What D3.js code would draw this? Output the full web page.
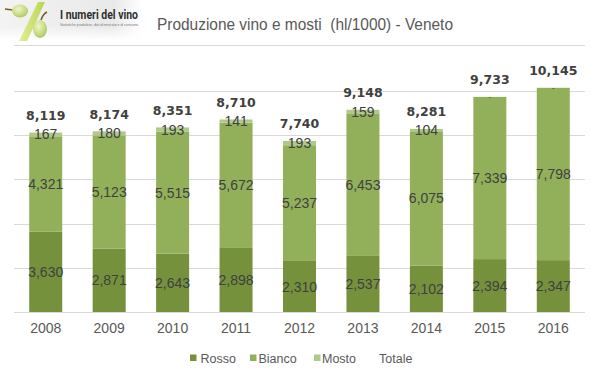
<!DOCTYPE html>
<html>
<head>
<meta charset="utf-8">
<script src="https://cdn.jsdelivr.net/npm/d3@7"></script>
<style>
  html, body { margin: 0; padding: 0; background: #ffffff; }
  svg { display: block; }
</style>
</head>
<body>
<div id="chart"></div>
<script>
const years = ["2008","2009","2010","2011","2012","2013","2014","2015","2016"];
const rosso  = [3630, 2871, 2643, 2898, 2310, 2537, 2102, 2394, 2347];
const bianco = [4321, 5123, 5515, 5672, 5237, 6453, 6075, 7339, 7798];
const mosto  = [167, 180, 193, 141, 193, 159, 104, 0, 0];
const totale = [8119, 8174, 8351, 8710, 7740, 9148, 8281, 9733, 10145];
const yTicks = [0, 2000, 4000, 6000, 8000, 10000];
const seriesNames = ["Rosso", "Bianco", "Mosto"];
const seriesColors = ["#76913c", "#92b05a", "#aec98a"];
const titleText = "Produzione vino e mosti  (hl/1000) - Veneto";

const W = 599, H = 378;
const svg = d3.select("#chart").append("svg").attr("width", W).attr("height", H);

// ---- logo ----
const defs = svg.append("defs");
const lg = defs.append("linearGradient").attr("id", "logobg").attr("x1", "0").attr("x2", "1").attr("y1", "0").attr("y2", "0");
lg.append("stop").attr("offset", "0").attr("stop-color", "#f3f3f3");
lg.append("stop").attr("offset", "0.8").attr("stop-color", "#e9e9e9");
lg.append("stop").attr("offset", "1").attr("stop-color", "#ffffff");
const lg2 = defs.append("linearGradient").attr("id", "logofade").attr("x1", "0").attr("x2", "0").attr("y1", "0").attr("y2", "1");
lg2.append("stop").attr("offset", "0").attr("stop-color", "#ffffff").attr("stop-opacity", 0);
lg2.append("stop").attr("offset", "1").attr("stop-color", "#ffffff").attr("stop-opacity", 1);
const gr = defs.append("radialGradient").attr("id", "grape").attr("cx", "0.4").attr("cy", "0.35").attr("r", "0.7");
gr.append("stop").attr("offset", "0").attr("stop-color", "#eef5c8");
gr.append("stop").attr("offset", "0.6").attr("stop-color", "#c8dd86");
gr.append("stop").attr("offset", "1").attr("stop-color", "#a9c45e");
const sg = defs.append("linearGradient").attr("id", "slash").attr("x1", "0").attr("x2", "1");
sg.append("stop").attr("offset", "0").attr("stop-color", "#e2ef96");
sg.append("stop").attr("offset", "1").attr("stop-color", "#b9d452");

const logo = svg.append("g");
logo.append("rect").attr("x", 0).attr("y", 0).attr("width", 142).attr("height", 40).attr("fill", "url(#logobg)");
logo.append("rect").attr("x", 0).attr("y", 26).attr("width", 142).attr("height", 14).attr("fill", "url(#logofade)");
logo.append("polygon").attr("points", "19,41 27,41 45,2 38,2").attr("fill", "url(#slash)");
logo.append("line").attr("x1", 5).attr("y1", 9).attr("x2", 13).attr("y2", 10).attr("stroke", "#7a5a2a").attr("stroke-width", 1.5);
logo.append("ellipse").attr("cx", 20).attr("cy", 11).attr("rx", 8).attr("ry", 6.5).attr("fill", "url(#grape)");
logo.append("path").attr("d", "M41,20 Q43,14 47,12").attr("fill", "none").attr("stroke", "#7a5a2a").attr("stroke-width", 1.5);
logo.append("ellipse").attr("cx", 40).attr("cy", 29).attr("rx", 7).attr("ry", 9).attr("fill", "url(#grape)");
logo.append("text").attr("x", 60).attr("y", 18.5)
  .attr("font-family", "'Liberation Sans Narrow', 'Roboto', sans-serif").attr("font-weight", "bold")
  .attr("font-size", 12).attr("fill", "#2f2f2f")
  .attr("textLength", 78).attr("lengthAdjust", "spacingAndGlyphs").text("I numeri del vino");
logo.append("text").attr("x", 60).attr("y", 25.5)
  .attr("font-family", "'Liberation Sans', sans-serif").attr("font-size", 3.5).attr("fill", "#777")
  .attr("textLength", 79).attr("lengthAdjust", "spacingAndGlyphs")
  .text("Statistiche produttive, dati di mercato e di consumo.");

// ---- title ----
svg.append("text").attr("x", 157).attr("y", 30)
  .style("white-space", "pre")
  .attr("font-family", "'Liberation Sans Narrow', 'Liberation Sans', sans-serif")
  .attr("font-size", 16.5).attr("fill", "#595959")
  .attr("textLength", 296).attr("lengthAdjust", "spacingAndGlyphs")
  .text(titleText);
svg.append("line").attr("x1", 14).attr("x2", 585).attr("y1", 45.5).attr("y2", 45.5)
  .attr("stroke", "#d9d9d9").attr("stroke-width", 1);

// ---- scales ----
const x = d3.scaleBand().domain(years).range([14, 585]).paddingInner(0.48).paddingOuter(0.24);
const y = d3.scaleLinear().domain([0, 10000]).range([312, 91]);

// gridlines
svg.append("g").selectAll("line").data(yTicks).join("line")
  .attr("x1", 14).attr("x2", 585)
  .attr("y1", d => Math.round(y(d)) + 0.5).attr("y2", d => Math.round(y(d)) + 0.5)
  .attr("stroke", "#d9d9d9").attr("stroke-width", 1);

// stacked data
const rows = years.map((yr, i) => ({ year: yr, Rosso: rosso[i], Bianco: bianco[i], Mosto: mosto[i] }));
const stack = d3.stack().keys(seriesNames)(rows);

const gBars = svg.append("g");
stack.forEach((layer, li) => {
  gBars.append("g").selectAll("rect").data(layer).join("rect")
    .attr("x", d => x(d.data.year))
    .attr("width", x.bandwidth())
    .attr("y", d => y(d[1]))
    .attr("height", d => y(d[0]) - y(d[1]))
    .attr("fill", seriesColors[li]);
});

// segment labels
const fmt = d3.format(",");
stack.forEach((layer, li) => {
  svg.append("g").selectAll("text").data(layer).join("text")
    .attr("x", d => x(d.data.year) + x.bandwidth() / 2)
    .attr("y", d => (y(d[0]) + y(d[1])) / 2)
    .attr("dy", d => (d[1] - d[0]) === 0 ? "0.3em" : "0.36em")
    .attr("text-anchor", "middle")
    .attr("font-family", "'Liberation Sans', Arial, sans-serif")
    .attr("font-size", d => (d[1] - d[0]) === 0 ? 8 : 14)
    .attr("fill", "#404040")
    .text(d => (d[1] - d[0]) === 0 ? "-" : fmt(d[1] - d[0]));
});

// totale labels
svg.append("g").selectAll("text").data(totale).join("text")
  .attr("x", (d, i) => x(years[i]) + x.bandwidth() / 2)
  .attr("y", (d, i) => y(d3.sum([rosso[i], bianco[i], mosto[i]])) - 17)
  .attr("dy", "0.36em")
  .attr("text-anchor", "middle")
  .attr("font-family", "'DejaVu Sans', Verdana, sans-serif")
  .attr("font-weight", "bold")
  .attr("font-size", 12.5)
  .attr("fill", "#404040")
  .text(d => fmt(d));

// x axis labels
const xAxis = d3.axisBottom(x).tickSize(0).tickPadding(0);
const gx = svg.append("g").attr("transform", "translate(0,322)").call(xAxis);
gx.select(".domain").remove();
gx.selectAll("text")
  .attr("font-family", "'Liberation Sans', Arial, sans-serif")
  .attr("font-size", 14).attr("fill", "#595959").attr("dy", "0.75em");

// legend
const legendItems = [
  { name: "Rosso", color: seriesColors[0], x: 190, tx: 200.5 },
  { name: "Bianco", color: seriesColors[1], x: 250, tx: 258.5 },
  { name: "Mosto", color: seriesColors[2], x: 314, tx: 322 },
  { name: "Totale", color: null, x: 379, tx: 379 }
];
const gl = svg.append("g");
legendItems.forEach(it => {
  if (it.color) {
    gl.append("rect").attr("x", it.x).attr("y", 354.5).attr("width", 6.5).attr("height", 6.5).attr("fill", it.color);
  }
  gl.append("text").attr("x", it.tx).attr("y", 358).attr("dy", "0.36em")
    .attr("font-family", "'Liberation Sans', Arial, sans-serif")
    .attr("font-size", 12.5).attr("fill", "#595959").text(it.name);
});
</script>
</body>
</html>
